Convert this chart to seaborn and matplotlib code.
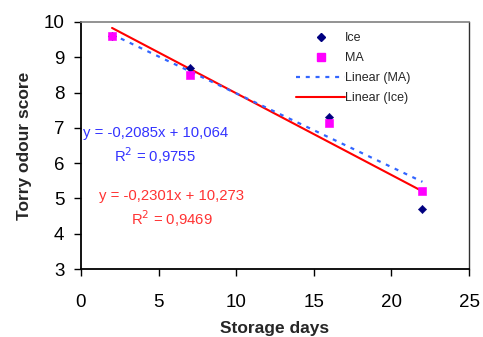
import matplotlib
matplotlib.use("Agg")
import matplotlib.pyplot as plt
import seaborn as sns
import numpy as np
import pandas as pd
from matplotlib.lines import Line2D

days = [2, 7, 16, 22]
ice = [9.6, 8.7, 7.3, 4.7]
ma = [9.6, 8.5, 7.15, 5.2]
eq_ma = ["y = -0,2085x + 10,064", "R$^2$ = 0,9755"]
eq_ice = ["y = -0,2301x + 10,273", "R$^2$ = 0,9469"]
xticks = [0, 5, 10, 15, 20, 25]
yticks = [3, 4, 5, 6, 7, 8, 9, 10]

sns.set_style("white")
plt.rcParams['font.family'] = ['Liberation Sans', 'DejaVu Sans']

df = pd.DataFrame({"days": days, "Ice": ice, "MA": ma})

fig = plt.figure(figsize=(4.83, 3.37), dpi=100)
ax = fig.add_axes([81/483, 1-269/337, 388/483, 247/337])

c_ice_pt = "#000080"
c_ma_pt = "#FF00FF"
c_ice_ln = "#FF0000"
c_ma_ln = "#3366FF"

sns.regplot(data=df, x="days", y="Ice", ax=ax, scatter=False, ci=None,
            line_kws=dict(color=c_ice_ln, lw=1.5, zorder=2))
sns.regplot(data=df, x="days", y="MA", ax=ax, scatter=False, ci=None,
            line_kws=dict(color=c_ma_ln, lw=1.6, ls=(0, (1.8, 2.6)), zorder=3))
sns.scatterplot(data=df, x="days", y="Ice", ax=ax, marker="D", s=18,
                color=c_ice_pt, edgecolor=c_ice_pt, zorder=4)
sns.scatterplot(data=df, x="days", y="MA", ax=ax, marker="s", s=30,
                color=c_ma_pt, edgecolor=c_ma_pt, zorder=5)

ax.set_xlim(0, 25)
ax.set_ylim(3, 10)
ax.set_xticks(xticks)
ax.set_yticks(yticks)
ax.tick_params(axis="both", direction="out", length=5, width=1, colors="black",
               labelsize=13.5, left=True, bottom=True)
ax.tick_params(axis="x", pad=13)
ax.tick_params(axis="y", pad=7)
for s in ["left", "bottom"]:
    ax.spines[s].set_color("black")
    ax.spines[s].set_linewidth(1.3)
ax.spines["top"].set_color("#808080")
ax.spines["top"].set_linewidth(1.2)
ax.spines["right"].set_color("#303030")
ax.spines["right"].set_linewidth(1.0)

ax.set_xlabel("Storage days", fontsize=12.5, fontweight="bold", labelpad=7)
ax.set_ylabel("Torry odour score", fontsize=12.5, fontweight="bold", labelpad=8)

ax.text(0.13, 6.85, eq_ma[0], color="#3333FF", fontsize=10.7, ha="left", va="center")
ax.text(4.77, 6.2, eq_ma[1], color="#3333FF", fontsize=10.7, ha="center", va="center")
ax.text(5.8, 5.07, eq_ice[0], color="#FF3333", fontsize=10.7, ha="center", va="center")
ax.text(5.86, 4.42, eq_ice[1], color="#FF3333", fontsize=10.7, ha="center", va="center")

handles = [
    Line2D([], [], ls="none", marker="D", ms=4.2, color=c_ice_pt),
    Line2D([], [], ls="none", marker="s", ms=5.5, color=c_ma_pt),
    Line2D([], [], color=c_ma_ln, lw=1.6, ls=(0, (1.8, 2.6))),
    Line2D([], [], color=c_ice_ln, lw=1.5),
]
labels = ["Ice", "MA", "Linear (MA)", "Linear (Ice)"]
ax.legend(handles, labels, loc="upper left", bbox_to_anchor=(0.542, 0.98),
          frameon=False, fontsize=9, handlelength=3.9, handletextpad=0.0,
          labelspacing=0.65, borderaxespad=0)

fig.savefig("out.png", dpi=100)
